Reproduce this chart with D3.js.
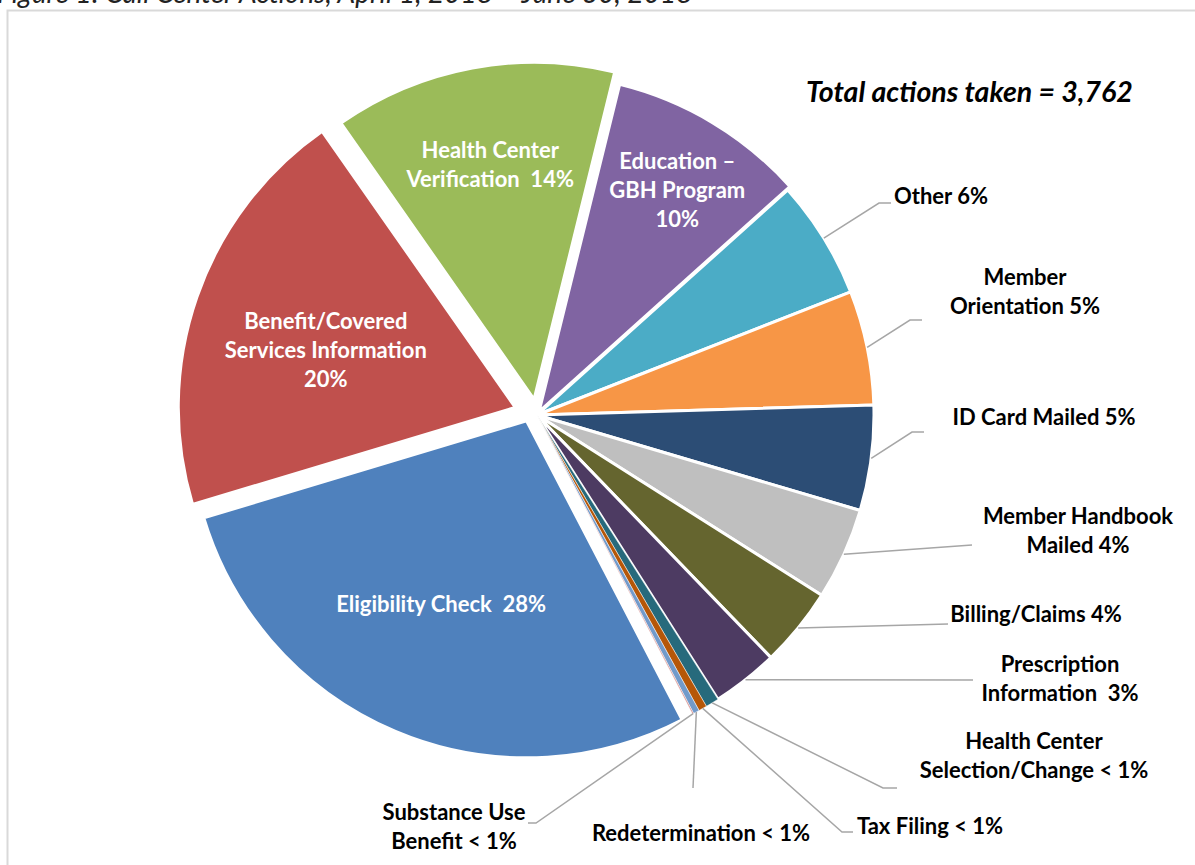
<!DOCTYPE html>
<html lang="en">
<head>
<meta charset="utf-8">
<title>Call Center Actions</title>
<script src="https://d3js.org/d3.v7.min.js"></script>
<style>
  body { margin: 0; background: #fff; }
  svg text { font-family: Lato, 'Open Sans', sans-serif; font-weight: bold; white-space: pre; }
  .inlabel { fill: #fff; font-size: 22px; }
  .outlabel { fill: #000; font-size: 22px; }
  .leader { fill: none; stroke: #a6a6a6; stroke-width: 1.5; }
</style>
</head>
<body>
<div id="chart"></div>
<script>

// ---- data (total = 3,762) ----
var categories = ["Eligibility Check", "Benefit/Covered Services Information", "Health Center Verification",
  "Education – GBH Program", "Other", "Member Orientation", "ID Card Mailed", "Member Handbook Mailed",
  "Billing/Claims", "Prescription Information", "Health Center Selection/Change", "Tax Filing",
  "Redetermination", "Substance Use Benefit"];
var counts = [1053, 750, 510, 358, 214, 206, 190, 166, 143, 120, 24, 15, 11, 2];
var totalActions = 3762;

// label text as printed on the chart
var labelLines = [
  ["Eligibility Check  28%"],
  ["Benefit/Covered", "Services Information", "20%"],
  ["Health Center", "Verification  14%"],
  ["Education –", "GBH Program", "10%"],
  ["Other 6%"],
  ["Member", "Orientation 5%"],
  ["ID Card Mailed 5%"],
  ["Member Handbook", "Mailed 4%"],
  ["Billing/Claims 4%"],
  ["Prescription", "Information  3%"],
  ["Health Center", "Selection/Change < 1%"],
  ["Tax Filing < 1%"],
  ["Redetermination < 1%"],
  ["Substance Use", "Benefit < 1%"]
];

var colors = ["#4f81bd", "#c0504d", "#9bbb59", "#8064a2", "#4bacc6", "#f79646", "#2c4d75",
  "#bfbfbf", "#65652f", "#4d3b62", "#276a7c", "#b65708", "#729aca", "#cd7371"];

// ---- layout ----
var width = 1195, height = 865;
var cx = 537, cy = 415, radius = 337;
var startDeg = 152.5;
// slice pull-out: distance and direction shift from the slice middle (deg)
var explode = [12, 23, 16, 4, 0, 0, 0, 0, 0, 0, 0, 0, 0, 0];
var explodeShift = [38, 0, 0, 0, 0, 0, 0, 0, 0, 0, 0, 0, 0, 0];
var borderW = [3, 3, 3, 3, 3, 3, 3, 3, 3, 3, 0.5, 0.5, 0.5, 0.5];
var lineH = 29;

// labels inside the slice: distance from centre, angle shift (deg)
var inside = { 0: [212, 4], 1: [221, -2], 2: [255, 0], 3: [265, 1] };
// labels outside: text centre x, first line y, leader end x/y, horizontal stub
var outside = {
  4: [941, 196, 891, 203, 12],
  5: [1025, 277, 922, 320, 12],
  6: [1044, 417, 924, 432, 12],
  7: [1078, 516, 972, 545, 0],
  8: [1036, 614, 948, 624, 0],
  9: [1060, 664, 973, 680, 0],
  10: [1034, 741, 897, 788, 14],
  11: [930, 826, 853, 832, 11],
  12: [701, 833, 693, 788, 0],
  13: [454, 812, 528, 823, -8]
};

var svg = d3.select("#chart")
  .append("svg")
    .attr("width", width)
    .attr("height", height);

// frame and the cut-off caption above it
svg.append("text")
  .attr("x", -3)
  .attr("y", 3)
  .style("font-weight", "normal")
  .style("font-style", "italic")
  .style("font-size", "28px")
  .attr("fill", "#222")
  .text("Figure 1: Call Center Actions, April 1, 2018 – June 30, 2018");

svg.append("rect")
  .attr("x", 7.5)
  .attr("y", 10.5)
  .attr("width", 1200)
  .attr("height", 900)
  .attr("fill", "none")
  .attr("stroke", "#d9d9d9")
  .attr("stroke-width", 2);

var pie = d3.pie()
  .sort(null)
  .value(function(d) { return d; })
  .startAngle(startDeg * Math.PI / 180)
  .endAngle((startDeg + 360) * Math.PI / 180);

var arcs = pie(counts);
var arc = d3.arc().innerRadius(0).outerRadius(radius);

function mid(d) { return (d.startAngle + d.endAngle) / 2; }
function offset(d, i) {
  var a = mid(d) + explodeShift[i] * Math.PI / 180;
  return [explode[i] * Math.sin(a), -explode[i] * Math.cos(a)];
}

var g = svg.append("g")
  .attr("transform", "translate(" + cx + "," + cy + ")");

g.selectAll("path.slice")
  .data(arcs)
  .enter()
  .append("path")
    .attr("class", "slice")
    .attr("transform", function(d, i) { var o = offset(d, i); return "translate(" + o[0] + "," + o[1] + ")"; })
    .attr("d", arc)
    .attr("fill", function(d, i) { return colors[i]; })
    .attr("stroke", "#fff")
    .attr("stroke-width", function(d, i) { return borderW[i]; })
    .attr("stroke-linejoin", "round");

// leader lines for the outside labels
arcs.forEach(function(d, i) {
  var L = outside[i];
  if (!L) return;
  var a = mid(d);
  var sx = cx + radius * Math.sin(a), sy = cy - radius * Math.cos(a);
  var ex = L[2], ey = L[3];
  svg.append("path")
    .attr("class", "leader")
    .attr("d", d3.line()([[sx, sy], [ex - L[4], ey], [ex, ey]]));
});

// labels
function drawLines(x, yFirst, lines, cls) {
  var t = svg.append("text")
    .attr("class", cls)
    .attr("text-anchor", "middle");
  lines.forEach(function(s, k) {
    t.append("tspan")
      .attr("x", x)
      .attr("y", yFirst + k * lineH)
      .attr("dy", "0.35em")
      .text(s);
  });
}

arcs.forEach(function(d, i) {
  var lines = labelLines[i];
  if (inside[i]) {
    var a = mid(d) + inside[i][1] * Math.PI / 180;
    var x = cx + inside[i][0] * Math.sin(a);
    var y = cy - inside[i][0] * Math.cos(a);
    drawLines(x, y - (lines.length - 1) * lineH / 2, lines, "inlabel");
  } else {
    drawLines(outside[i][0], outside[i][1], lines, "outlabel");
  }
});

svg.append("text")
  .attr("x", 806)
  .attr("y", 92)
  .attr("dy", "0.35em")
  .style("font-style", "italic")
  .style("font-size", "28.5px")
  .attr("fill", "#000")
  .text("Total actions taken = " + d3.format(",")(totalActions));

</script>
</body>
</html>
